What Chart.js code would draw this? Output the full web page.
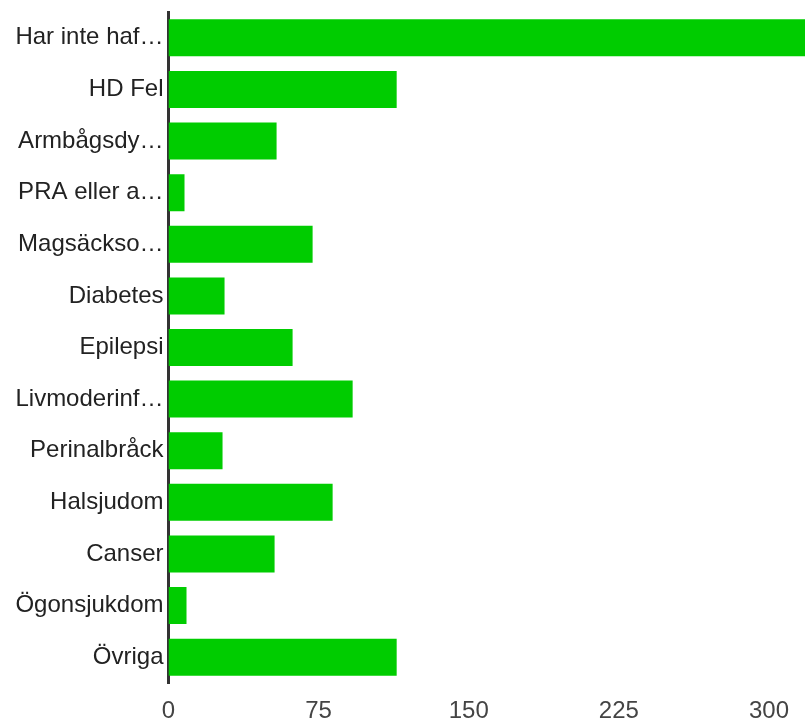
<!DOCTYPE html>
<html>
<head>
<meta charset="utf-8">
<script src="https://cdn.jsdelivr.net/npm/chart.js@4/dist/chart.umd.min.js"></script>
<style>
html,body{margin:0;padding:0;background:#fff;}
#wrap{width:805px;height:722px;}
</style>
</head>
<body>
<div id="wrap"><canvas id="c" width="805" height="722"></canvas></div>
<script>
const categories = ["Har inte haf…","HD Fel","Armbågsdy…","PRA eller a…","Magsäckso…","Diabetes","Epilepsi","Livmoderinf…","Perinalbråck","Halsjudom","Canser","Ögonsjukdom","Övriga"];
const counts = [320,114,54,8,72,28,62,92,27,82,53,9,114];
const tickValues = [0,75,150,225,300];

new Chart(document.getElementById('c'), {
  type: 'bar',
  data: {
    labels: categories,
    datasets: [{
      data: counts,
      backgroundColor: '#00cc00',
      borderWidth: 0,
      categoryPercentage: 1,
      barPercentage: 0.717
    }]
  },
  options: {
    indexAxis: 'y',
    responsive: false,
    animation: false,
    layout: { padding: { top: 0, left: 0, right: 0, bottom: 0 } },
    plugins: { legend: { display: false }, tooltip: { enabled: false } },
    scales: {
      x: {
        min: 0,
        max: 318,
        grid: { display: false, drawTicks: false },
        border: { display: false },
        afterBuildTicks: (s) => { s.ticks = tickValues.map(v => ({ value: v })); },
        afterFit: (s) => { s.height = 39; },
        ticks: {
          padding: 14,
          color: '#444',
          font: { family: 'Liberation Sans, Arial, sans-serif', size: 24 }
        }
      },
      y: {
        z: 1,
        grid: { display: false, drawTicks: false },
        border: { display: true, color: '#333', width: 3 },
        afterFit: (s) => { s.width = 168.5; s.paddingTop = 12; s.paddingBottom = 0; },
        ticks: {
          padding: 5,
          color: '#222',
          font: { family: 'Liberation Sans, Arial, sans-serif', size: 24, lineHeight: 1 }
        }
      }
    }
  }
});
</script>
</body>
</html>
